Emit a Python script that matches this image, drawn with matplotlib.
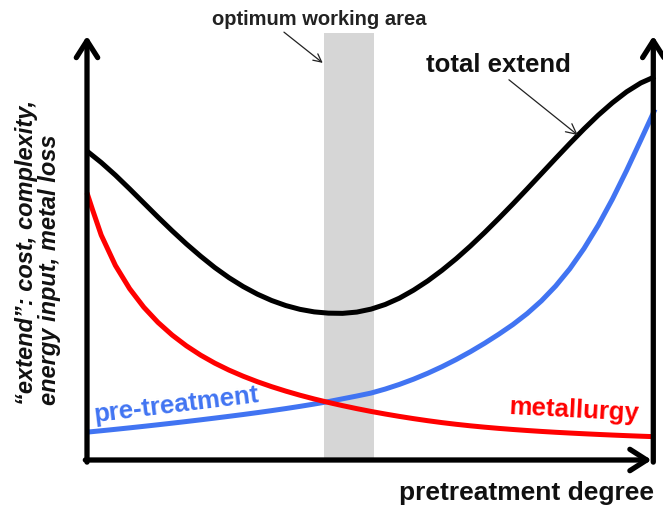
import numpy as np
import matplotlib
matplotlib.use("Agg")
import matplotlib.pyplot as plt
from matplotlib.patches import Rectangle

plt.rcParams['font.family'] = ['Liberation Sans', 'DejaVu Sans']

# pretreatment degree (0..100) and "extend" (0..100)
degree = [0, 2.5, 5, 7.5, 10, 12.5, 15, 17.5, 20, 22.5, 25, 27.5, 30, 32.5, 35, 37.5, 40,
          42.5, 45, 47.5, 50, 52.5, 55, 57.5, 60, 62.5, 65, 67.5, 70, 72.5, 75, 77.5, 80,
          82.5, 85, 87.5, 90, 92.5, 95, 97.5, 100]
total_extend = [73.2, 70.5, 67.5, 64.25, 60.9, 57.55, 54.3, 51.2, 48.3, 45.6, 43.2, 41.1,
                39.3, 37.8, 36.6, 35.7, 35.1, 34.8, 34.75, 35.05, 35.75, 36.85, 38.35,
                40.25, 42.45, 44.95, 47.7, 50.7, 53.9, 57.25, 60.7, 64.25, 67.85, 71.45,
                75.0, 78.45, 81.7, 84.65, 87.25, 89.35, 90.85]
pretreatment = [6.6, 6.93, 7.27, 7.62, 7.98, 8.35, 8.73, 9.12, 9.52, 9.93, 10.35, 10.78,
                11.23, 11.7, 12.19, 12.71, 13.26, 13.84, 14.5, 15.16, 15.86, 16.81, 17.91,
                19.16, 20.56, 22.11, 23.81, 25.66, 27.66, 29.81, 32.11, 34.71, 37.71,
                41.21, 45.31, 50.11, 55.61, 61.81, 68.61, 75.81, 83.11]
metal_degree = [0, 1] + degree[1:]
metallurgy = [63.3, 59.2, 53.3, 46.1, 40.6, 36.2, 32.6, 29.6, 27.05, 24.85, 22.95, 21.3,
              19.85, 18.55, 17.38, 16.32, 15.35, 14.46, 13.64, 12.88, 12.17, 11.51, 10.9,
              10.33, 9.8, 9.31, 8.86, 8.46, 8.1, 7.78, 7.49, 7.23, 6.99, 6.77, 6.57, 6.39,
              6.22, 6.06, 5.91, 5.77, 5.64, 5.52]

optimum_area = (41.7, 50.5)

W, H = 663, 508
fig = plt.figure(figsize=(W / 100, H / 100), dpi=100)
ax = fig.add_axes([87 / W, 48 / H, 568 / W, 422 / H])
ax.set_xlim(0, 100)
ax.set_ylim(0, 100)
ax.axis('off')

# optimum working area band
ax.add_patch(Rectangle((optimum_area[0], 0), optimum_area[1] - optimum_area[0], 101.2,
                       facecolor='#d6d6d6', edgecolor='none', clip_on=False, zorder=1))

ax.plot(degree, total_extend, color='black', lw=3.6, zorder=3, clip_on=False,
        solid_capstyle='butt', solid_joinstyle='round')
ax.plot(degree, pretreatment, color='#4174f2', lw=3.6, zorder=3, clip_on=False,
        solid_capstyle='butt', solid_joinstyle='round')
ax.plot(metal_degree, metallurgy, color='#ff0000', lw=3.6, zorder=3, clip_on=False,
        solid_capstyle='butt', solid_joinstyle='round')

# axes drawn as thick arrows
axis_arrow = dict(arrowstyle='->,head_length=0.55,head_width=0.35', lw=3.8,
                  color='black', mutation_scale=22, shrinkA=0, shrinkB=0)
ax.annotate('', xy=(0, 100.5), xytext=(0, -0.5), arrowprops=axis_arrow,
            annotation_clip=False, zorder=4)
ax.annotate('', xy=(99.7, 100.5), xytext=(99.7, -0.5), arrowprops=axis_arrow,
            annotation_clip=False, zorder=4)
ax.annotate('', xy=(99.4, 0), xytext=(-0.3, 0), arrowprops=axis_arrow,
            annotation_clip=False, zorder=4)

thin_arrow = dict(arrowstyle='->', lw=0.9, color='#222222', shrinkA=0, shrinkB=0)
ax.annotate('optimum working area', xy=(41.5, 94.1), xytext=(40.9, 104.3),
            ha='center', va='center', fontsize=14.5, fontweight='bold',
            color='#222222', arrowprops=dict(thin_arrow, relpos=(0.33, -0.1)),
            annotation_clip=False)
ax.annotate('total extend', xy=(86.4, 77.0), xytext=(72.4, 93.6),
            ha='center', va='center', fontsize=18.5, fontweight='bold',
            color='#111111', arrowprops=dict(thin_arrow, relpos=(0.55, 0.0)),
            annotation_clip=False)

ax.text(15.8, 13.0, 'pre-treatment', color='#4174f2', fontsize=18.5,
        fontweight='bold', rotation=7, ha='center', va='center')
ax.text(85.7, 11.8, 'metallurgy', color='#ff0000', fontsize=18.5,
        fontweight='bold', rotation=-3, ha='center', va='center')
ax.text(99.8, -7.8, 'pretreatment degree', fontsize=19, fontweight='bold',
        color='#111111', ha='right', va='center', clip_on=False)

fig.text(38.5 / W, (H - 405) / H,
         '\u201cextend\u201d: cost, complexity,\nenergy input, metal loss',
         rotation=90, ha='center', va='bottom', multialignment='left',
         fontsize=17, fontweight='bold', fontstyle='italic', color='#111111',
         linespacing=1.0)

fig.savefig('out.png', dpi=100)
